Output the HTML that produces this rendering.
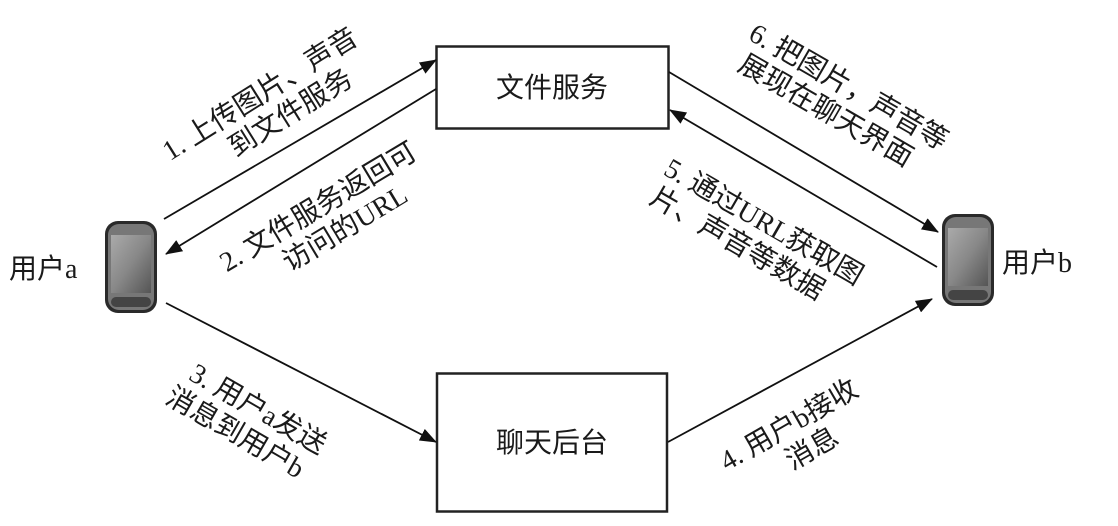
<!DOCTYPE html>
<html><head><meta charset="utf-8"><style>
body{margin:0;background:#fff;}
svg text{font-family:"Liberation Serif","Noto Sans CJK SC",sans-serif;fill:#1a1a1a;}
</style></head><body>
<svg width="1118" height="521" viewBox="0 0 1118 521" xmlns="http://www.w3.org/2000/svg">
<defs>
<marker id="ah" markerWidth="17" markerHeight="13" refX="16" refY="6.5" orient="auto" markerUnits="userSpaceOnUse">
<path d="M0,0 L17,6.5 L0,13 z" fill="#111"/></marker>
<linearGradient id="scr" x1="0" y1="0" x2="1" y2="1"><stop offset="0" stop-color="#aaa"/><stop offset="0.5" stop-color="#888"/><stop offset="1" stop-color="#555"/></linearGradient>
<g id="phone">
<rect x="0" y="0" width="52" height="92" rx="13" fill="#2a2a2a"/>
<rect x="3" y="3" width="46" height="86" rx="11" fill="#777"/>
<rect x="6" y="14" width="40" height="58" fill="url(#scr)"/>
<rect x="6" y="76" width="40" height="10" rx="5" fill="#444"/>
</g>
</defs>
<rect x="436.5" y="46.5" width="232" height="82" fill="#fff" stroke="#222" stroke-width="2.5"/>
<text x="552" y="97" font-size="28" text-anchor="middle">文件服务</text>
<rect x="437" y="373.5" width="230" height="138" fill="#fff" stroke="#222" stroke-width="2.5"/>
<text x="552" y="452" font-size="28" text-anchor="middle">聊天后台</text>
<use href="#phone" x="105" y="221"/>
<use href="#phone" x="942" y="214"/>
<text x="9" y="278" font-size="28">用户a</text>
<text x="1002" y="272" font-size="28">用户b</text>
<g stroke="#111" stroke-width="1.8" fill="none">
<line x1="164" y1="219" x2="436" y2="60" marker-end="url(#ah)"/>
<line x1="436" y1="89" x2="166" y2="254" marker-end="url(#ah)"/>
<line x1="669" y1="72" x2="938" y2="232" marker-end="url(#ah)"/>
<line x1="937" y1="267" x2="670" y2="110" marker-end="url(#ah)"/>
<line x1="166" y1="303" x2="436" y2="442" marker-end="url(#ah)"/>
<line x1="668" y1="442" x2="932" y2="299" marker-end="url(#ah)"/>
</g>
<g font-size="28" text-anchor="middle">
<g transform="translate(268,107) rotate(-32)"><text x="0" y="-6">1. 上传图片、声音</text><text x="16" y="26">到文件服务</text></g>
<g transform="translate(326,220) rotate(-31)"><text x="0" y="-6">2. 文件服务返回可</text><text x="12" y="26">访问的URL</text></g>
<g transform="translate(841,100) rotate(30)"><text x="0" y="-6">6. 把图片，声音等</text><text x="-8" y="26">展现在聊天界面</text></g>
<g transform="translate(751,232) rotate(30)"><text x="6" y="-6">5. 通过URL获取图</text><text x="-6" y="26">片、声音等数据</text></g>
<g transform="translate(247,420) rotate(30)"><text x="4" y="-6">3. 用户a发送</text><text x="-4" y="26">消息到用户b</text></g>
<g transform="translate(800,436) rotate(-30)"><text x="-4" y="-6">4. 用户b接收</text><text x="4" y="26">消息</text></g>
</g>
</svg>
</body></html>
